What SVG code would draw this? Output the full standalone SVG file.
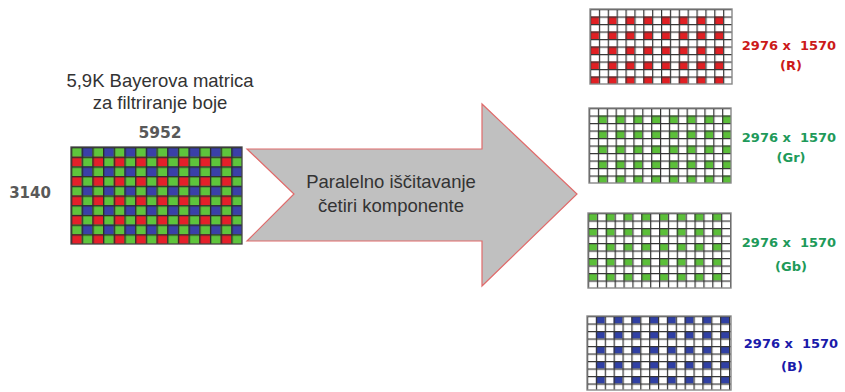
<svg xmlns="http://www.w3.org/2000/svg" width="845" height="392" viewBox="0 0 845 392">
<style>
.t{font-family:"Liberation Sans",Arial,sans-serif;fill:#333;text-anchor:middle}
.b{font-family:"DejaVu Sans",Verdana,sans-serif;font-weight:bold;text-anchor:middle;white-space:pre}
.dim{fill:#595959}
.r{fill:#cc1a1a}.g{fill:#1e9a5a}.bl{fill:#1a1aaa}
</style>
<defs>
<pattern id="bayer" patternUnits="userSpaceOnUse" x="0" y="0" width="21.375" height="19.4">
<rect x="0" y="0" width="10.6875" height="9.7" fill="#5ec43c"/>
<rect x="10.6875" y="0" width="10.6875" height="9.7" fill="#3a40a8"/>
<rect x="0" y="9.7" width="10.6875" height="9.7" fill="#e4202a"/>
<rect x="10.6875" y="9.7" width="10.6875" height="9.7" fill="#5ec43c"/>
</pattern>
<pattern id="bayerLines" patternUnits="userSpaceOnUse" x="0" y="0" width="10.6875" height="9.7">
<rect x="0" y="0" width="1.3" height="9.7" fill="#2a2a2a"/>
<rect x="0" y="0" width="10.6875" height="1.3" fill="#2a2a2a"/>
</pattern>
<pattern id="pR" patternUnits="userSpaceOnUse" x="0" y="0" width="17.75" height="15">
<rect width="17.75" height="15" fill="#fff"/>
<rect x="0" y="7.5" width="8.875" height="7.5" fill="#e02024"/>
</pattern>
<pattern id="pGr" patternUnits="userSpaceOnUse" x="0" y="0" width="17.75" height="15">
<rect width="17.75" height="15" fill="#fff"/>
<rect x="8.875" y="7.5" width="8.875" height="7.5" fill="#5cbf3a"/>
</pattern>
<pattern id="pGb" patternUnits="userSpaceOnUse" x="0" y="0" width="17.75" height="15">
<rect width="17.75" height="15" fill="#fff"/>
<rect x="0" y="0" width="8.875" height="7.5" fill="#5cbf3a"/>
</pattern>
<pattern id="pB" patternUnits="userSpaceOnUse" x="0" y="0" width="17.75" height="15">
<rect width="17.75" height="15" fill="#fff"/>
<rect x="8.875" y="0" width="8.875" height="7.5" fill="#3040a4"/>
</pattern>
<pattern id="gLines" patternUnits="userSpaceOnUse" x="0" y="0" width="8.875" height="7.5">
<rect x="0" y="0" width="1.2" height="7.5" fill="#333"/>
<rect x="0" y="0" width="8.875" height="1.2" fill="#333"/>
</pattern>
</defs>
<rect width="845" height="392" fill="#fff"/>

<g id="title">
<text class="t" x="160" y="87" font-size="18.5">5,9K Bayerova matrica</text>
<text class="t" x="160" y="109" font-size="18.5">za filtriranje boje</text>
</g>
<g id="width-label"><text class="b dim" x="160" y="138" font-size="15.5">5952</text></g>
<g id="height-label"><text class="b dim" x="30" y="198" font-size="15">3140</text></g>

<g id="bayer-matrix" transform="translate(71,147)">
<rect width="171" height="97" fill="url(#bayer)"/>
<rect width="171" height="97" fill="url(#bayerLines)"/>
<rect width="171" height="97" fill="none" stroke="#444" stroke-width="1.3"/>
</g>

<g id="connectors">
<g id="arrow">
<polygon points="247,149 482,149 482,104 577,194 482,286 482,241 247,241 294,194" fill="#c0c0c0" stroke="#e06a6a" stroke-width="1.2"/>
<text class="t" x="391" y="188" font-size="18.5">Paralelno iščitavanje</text>
<text class="t" x="391" y="212" font-size="18.5">četiri komponente</text>
</g>
</g>

<g id="grid-R" transform="translate(590,9)">
<rect width="142" height="75" fill="url(#pR)"/>
<rect width="142" height="75" fill="url(#gLines)"/>
<rect width="142" height="75" fill="none" stroke="#888" stroke-width="1.4"/>
</g>
<g id="label-R">
<text class="b r" x="789" y="50" font-size="13" xml:space="preserve">2976 x  1570</text>
<text class="b r" x="791" y="70" font-size="13">(R)</text>
</g>

<g id="grid-Gr" transform="translate(589,108)">
<rect width="142" height="75" fill="url(#pGr)"/>
<rect width="142" height="75" fill="url(#gLines)"/>
<rect width="142" height="75" fill="none" stroke="#888" stroke-width="1.4"/>
</g>
<g id="label-Gr">
<text class="b g" x="789" y="142" font-size="13" xml:space="preserve">2976 x  1570</text>
<text class="b g" x="791" y="162" font-size="13">(Gr)</text>
</g>

<g id="grid-Gb" transform="translate(588,213)">
<rect width="143" height="75" fill="url(#pGb)"/>
<rect width="143" height="75" fill="url(#gLines)"/>
<rect width="143" height="75" fill="none" stroke="#888" stroke-width="1.4"/>
</g>
<g id="label-Gb">
<text class="b g" x="789" y="247" font-size="13" xml:space="preserve">2976 x  1570</text>
<text class="b g" x="791" y="271" font-size="13">(Gb)</text>
</g>

<g id="grid-B" transform="translate(587,316)">
<rect width="144" height="74" fill="url(#pB)"/>
<rect width="144" height="74" fill="url(#gLines)"/>
<rect width="144" height="74" fill="none" stroke="#888" stroke-width="1.4"/>
</g>
<g id="label-B">
<text class="b bl" x="791" y="348" font-size="13" xml:space="preserve">2976 x  1570</text>
<text class="b bl" x="792" y="371" font-size="13">(B)</text>
</g>
</svg>
